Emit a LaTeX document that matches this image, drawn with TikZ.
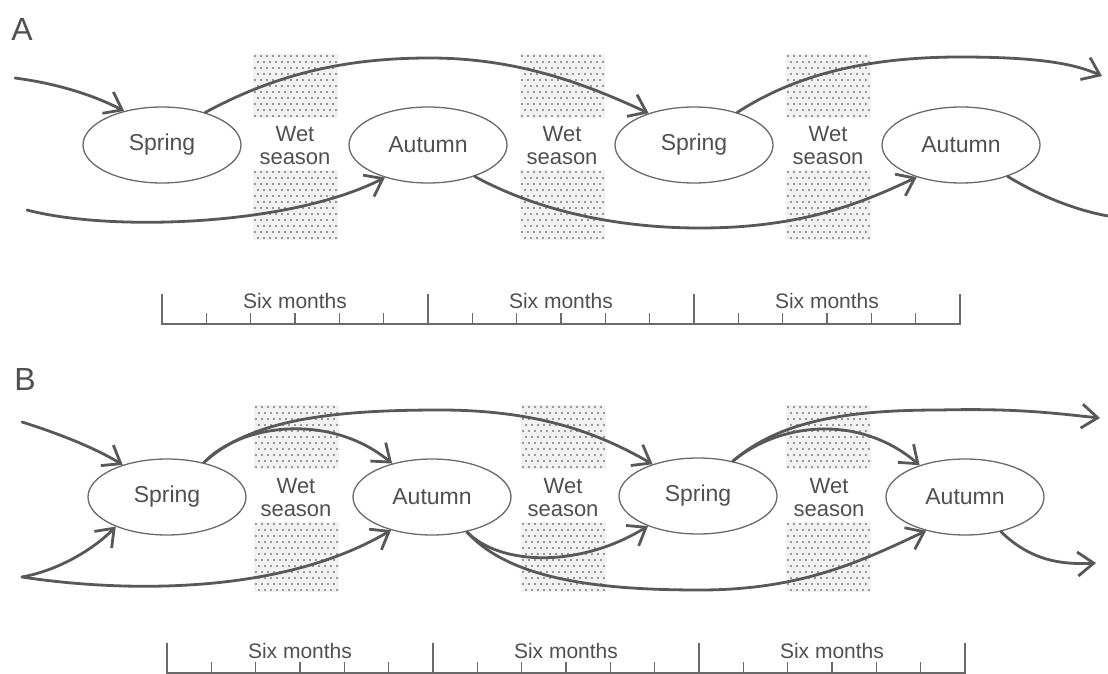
\documentclass[tikz,border=0pt]{standalone}
\usepackage{fontspec}
\setmainfont{Liberation Sans}
\usetikzlibrary{shapes.geometric,arrows.meta}
\definecolor{flowgray}{HTML}{585858}
\definecolor{edgegray}{HTML}{6A6A6A}
\definecolor{txtgray}{HTML}{505050}
\definecolor{dotgray}{HTML}{7A7A7A}
\newcommand\dotregion[4]{%
  \fill[black!5] ({#1-2},{#2-2}) rectangle ({#1+6*#3+5},{#2+6*#4+2});
  \foreach \i in {0,...,#3}{\foreach \j in {0,...,#4}{%
    \fill[dotgray] ({#1+6*\i+3*mod(\j,2)},{#2+6*\j}) circle[radius=1.05pt];}}}
\tikzset{
  season/.style={ellipse, draw=edgegray, fill=white, line width=1.3pt,
    minimum width=158pt, minimum height=76pt, inner sep=0pt,
    font=\fontsize{23}{26}\selectfont, text=txtgray},
  wettext/.style={align=center, font=\fontsize{22}{23}\selectfont, text=txtgray, inner sep=0pt},
  months/.style={font=\fontsize{21}{24}\selectfont, text=txtgray, inner sep=0pt},
  panel/.style={font=\fontsize{32}{34}\selectfont, text=txtgray, inner sep=0pt},
  flow/.style={draw=flowgray, line width=2.8pt, line cap=round},
  flowarrow/.style={flow, -{Straight Barb[length=16pt,width=24pt,line width=2.8pt]}},
  scaleline/.style={draw=edgegray, line width=1.5pt},
}
\begin{document}
\begin{tikzpicture}[x=1pt,y=-1pt]
\useasboundingbox[fill=white] (0,0) rectangle (1108,674);

% ---------- Panel A ----------
\node[panel] (labA) at (22,29) {A};
% wet season shading
\dotregion{255}{56}{13}{10}
\dotregion{255}{172}{13}{11}
\dotregion{522}{56}{13}{10}
\dotregion{522}{172}{13}{11}
\dotregion{788}{56}{13}{10}
\dotregion{788}{172}{13}{11}
\fill[white] (252,124) rectangle (338,168);
\fill[white] (519,124) rectangle (605,168);
\fill[white] (785,124) rectangle (871,168);
\node[wettext] (wA1) at (295,146) {Wet\\season};
\node[wettext] (wA2) at (562,146) {Wet\\season};
\node[wettext] (wA3) at (828,146) {Wet\\season};

\node[season] (sA1) at (162,145) {Spring};
\node[season] (aA1) at (428,145) {Autumn};
\node[season] (sA2) at (694,145) {Spring};
\node[season] (aA2) at (961,145) {Autumn};

\coordinate (inA1) at (15,78);
\coordinate (inA2) at (27,210);
\coordinate (eA1) at (1102,76);
\coordinate (eA2) at (1108,216);

\draw[flowarrow] (inA1) .. controls (60,84) and (95,96) .. (sA1.138);
\draw[flowarrow] (sA1.37) .. controls (280,72) and (350,58) .. (430,58)
   .. controls (520,58) and (590,86) .. (sA2.145);
\draw[flowarrow] (sA2.37) .. controls (790,78) and (860,57) .. (960,57)
   .. controls (1040,57) and (1075,64) .. (eA1);
\draw[flowarrow] (inA2) .. controls (110,232) and (290,226) .. (aA1.217);
\draw[flowarrow] (aA1.326) .. controls (540,212) and (620,228) .. (700,228)
   .. controls (800,228) and (860,204) .. (aA2.216);
\draw[flow] (aA2.326) .. controls (1040,196) and (1075,210) .. (eA2);

% timeline A
\draw[scaleline] (162,294) -- (162,324) -- (960,324) -- (960,294);
\draw[scaleline] (428,294) -- (428,324);
\draw[scaleline] (694,294) -- (694,324);
\foreach \s in {162,428,694}{\foreach \k in {1,...,5}{
  \draw[scaleline] ({\s+44.33*\k},313) -- ({\s+44.33*\k},324);}}
\node[months] (mA1) at (295,301) {Six months};
\node[months] (mA2) at (561,301) {Six months};
\node[months] (mA3) at (827,301) {Six months};

% ---------- Panel B ----------
\node[panel] (labB) at (25,379) {B};
\dotregion{256}{407}{13}{10}
\dotregion{256}{524}{13}{11}
\dotregion{523}{407}{13}{10}
\dotregion{523}{524}{13}{11}
\dotregion{788}{407}{13}{10}
\dotregion{788}{524}{13}{11}
\fill[white] (253,475) rectangle (339,520);
\fill[white] (520,475) rectangle (606,520);
\fill[white] (785,475) rectangle (871,520);
\node[wettext] (wB1) at (296,498) {Wet\\season};
\node[wettext] (wB2) at (563,498) {Wet\\season};
\node[wettext] (wB3) at (829,498) {Wet\\season};

\node[season] (sB1) at (167,497) {Spring};
\node[season] (aB1) at (432,497) {Autumn};
\node[season] (sB2) at (698,496) {Spring};
\node[season] (aB2) at (965,497) {Autumn};

\coordinate (inB1) at (22,422);
\coordinate (inB2) at (22,577);
\coordinate (eB1) at (1100,418);
\coordinate (eB2) at (1096,563);

\draw[flowarrow] (inB1) .. controls (60,434) and (95,448) .. (sB1.144);
\draw[flowarrow] (inB2) .. controls (60,570) and (95,548) .. (sB1.210);
\draw[flowarrow] (inB2) .. controls (120,592) and (280,596) .. (aB1.219);
\draw[flowarrow] (sB1.43) .. controls (250,420) and (330,410) .. (440,410)
   .. controls (540,410) and (600,434) .. (sB2.145);
\draw[flowarrow] (sB1.43) .. controls (240,424) and (330,412) .. (aB1.140);
\draw[flowarrow] (aB1.315) .. controls (500,566) and (580,568) .. (sB2.211);
\draw[flowarrow] (aB1.315) .. controls (510,580) and (600,590) .. (700,590)
   .. controls (800,590) and (860,562) .. (aB2.221);
\draw[flowarrow] (sB2.45) .. controls (780,420) and (850,410) .. (940,410)
   .. controls (1020,408) and (1060,414) .. (eB1);
\draw[flowarrow] (sB2.45) .. controls (780,422) and (860,414) .. (aB2.145);
\draw[flowarrow] (aB2.316) .. controls (1030,560) and (1060,565) .. (eB2);

% timeline B
\draw[scaleline] (167,643) -- (167,673) -- (965,673) -- (965,643);
\draw[scaleline] (433,643) -- (433,673);
\draw[scaleline] (699,643) -- (699,673);
\foreach \s in {167,433,699}{\foreach \k in {1,...,5}{
  \draw[scaleline] ({\s+44.33*\k},662) -- ({\s+44.33*\k},673);}}
\node[months] (mB1) at (300,651) {Six months};
\node[months] (mB2) at (566,651) {Six months};
\node[months] (mB3) at (832,651) {Six months};
\end{tikzpicture}
\end{document}
